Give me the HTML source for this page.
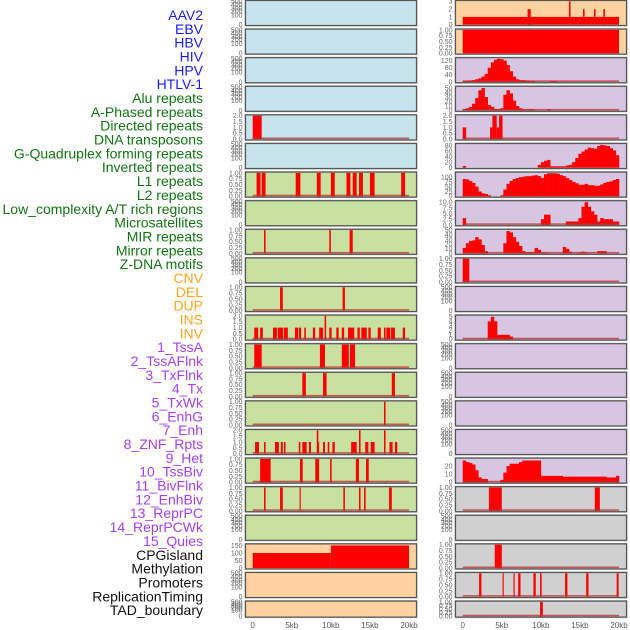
<!DOCTYPE html>
<html><head><meta charset="utf-8">
<style>
html,body{margin:0;padding:0;background:#fff;width:630px;height:630px;overflow:hidden}
svg{display:block}
.lab{font-family:"Liberation Sans",sans-serif;font-size:14px}
.tk{font-family:"Liberation Sans",sans-serif;font-size:7px;fill:#666}
.xt{font-family:"Liberation Sans",sans-serif;font-size:8px;fill:#555}
</style></head>
<body>
<svg id="chart" width="630" height="630" viewBox="0 0 630 630"></svg>
<script>
// ---- data ----
const labels = ["AAV2","EBV","HBV","HIV","HPV","HTLV-1","Alu repeats","A-Phased repeats","Directed repeats","DNA transposons","G-Quadruplex forming repeats","Inverted repeats","L1 repeats","L2 repeats","Low_complexity A/T rich regions","Microsatellites","MIR repeats","Mirror repeats","Z-DNA motifs","CNV","DEL","DUP","INS","INV","1_TssA","2_TssAFlnk","3_TxFlnk","4_Tx","5_TxWk","6_EnhG","7_Enh","8_ZNF_Rpts","9_Het","10_TssBiv","11_BivFlnk","12_EnhBiv","13_ReprPC","14_ReprPCWk","15_Quies","CPGisland","Methylation","Promoters","ReplicationTiming","TAD_boundary"];
const labelGroups = ["v","v","v","v","v","v","r","r","r","r","r","r","r","r","r","r","r","r","r","s","s","s","s","s","c","c","c","c","c","c","c","c","c","c","c","c","c","c","c","o","o","o","o","o"];
const xTickKb = [0,5,10,15,20];
const xTickLabels = ["0","5kb","10kb","15kb","20kb"];
// intervals: [startKb, endKb, value]
const aav2Int = [[0,20,1],[8.3,8.7,2],[13.6,13.8,3],[15.4,15.6,2],[16.8,17.0,2],[18.0,18.2,2]];
const ebvInt = [[0,20,1]];
const dirLeftInt = [[0,1.15,2]];
const dirRightInt = [[0,0.45,1],[3.5,3.8,1],[3.8,4.35,2],[4.35,4.65,1],[4.65,5.1,2]];
const l1LeftInt = [[0.5,1.0,1],[1.15,1.65,1],[5.5,6.1,1],[8.2,8.7,1],[10,10.5,1],[12,12.5,1],[12.8,13.3,1],[13.6,14.1,1],[15,15.6,1],[19,19.5,1]];
const mirLeftInt = [[1.45,1.65,1],[9.8,10.0,1],[12.4,12.8,1]];
const zdnaRightInt = [[0,0.85,1]];
const dupLeftInt = [[3.5,3.85,1],[11.5,11.8,1]];
const insLeftInt = [[0.2,0.7,1],[0.95,1.3,1],[2.6,3.1,1],[3.2,3.9,1],[4,4.5,1],[5.4,5.8,1],[5.9,6.2,1],[6.6,6.8,1],[7.7,8,1],[8.5,9,1],[9.2,9.4,2],[9.8,10.1,1],[10.7,11,1],[11.4,11.7,1],[12.2,13,1],[13.4,13.7,1],[13.9,14.6,1],[14.8,15.1,1],[16,16.4,1],[16.8,17,1],[17.1,17.6,1],[17.7,18.2,1],[19.2,19.5,1]];
const tssaInt = [[0.2,1.15,1],[8.6,9.25,1],[11.4,12.3,1],[12.45,13.1,1]];
const txflnkInt = [[6.35,6.8,1],[9.0,9.45,1],[17.8,18.2,1]];
const txInt = [[16.8,17.0,1]];
const znfInt = [[0.3,0.8,1],[1.45,1.65,1],[2.85,3.35,1],[3.6,3.85,1],[4.0,4.2,1],[5.9,6.1,1],[6.35,6.9,1],[7.2,7.45,1],[8.2,8.4,2],[8.3,8.5,1],[9.0,9.25,1],[9.6,9.8,1],[10.2,10.5,1],[12.6,13.3,1],[13.6,13.8,2],[14.4,14.8,1],[15.1,15.6,1],[16.8,17.0,2],[17.5,17.9,1],[18.2,18.5,1]];
const hetLeftInt = [[0.95,2.3,1],[6.05,6.4,1],[8.0,8.5,1],[9.9,10.1,1],[13.2,13.6,1],[14.5,14.85,1]];
const tssbivLeftInt = [[1.45,1.65,1],[3.5,3.85,1],[6.0,6.15,1],[11.6,11.8,1],[13.6,13.8,1],[14.25,14.45,1],[17.45,17.8,1]];
const tssbivRightInt = [[3.35,5.0,1],[16.9,17.55,1]];
const cpgInt = [[0,10,100],[10,20,150]];
const cpgRightInt = [[4.1,5.0,1]];
const promRightInt = [[2.1,2.4,1],[5.1,5.25,1],[6.5,6.65,1],[7.1,7.4,1],[9.05,9.35,1],[9.9,10.1,1],[13.1,13.4,1],[15.8,16.1,1],[19.7,19.95,1]];
const tadRightInt = [[9.9,10.25,1]];
// binned histograms: 50 bins of 0.4kb
const hivBins = [5,5,8,10,15,20,30,45,80,110,125,130,128,120,95,60,30,15,10,10,8,5,5,0,0,0,0,0,5,5,0,0,0,0,0,0,0,0,0,0,0,0,0,0,0,0,0,0,0,0];
const aluBins = [3,5,8,15,28,45,50,30,12,8,3,3,5,35,45,38,22,10,5,2,2,3,3,0,0,0,0,3,0,0,0,0,0,0,0,0,0,0,0,0,0,0,0,0,0,0,0,0,0,0];
const gquadBins = [6,0,0,0,0,0,0,0,0,0,0,0,0,0,0,0,0,0,0,0,0,0,0,0,10,20,25,28,5,5,5,5,5,8,10,20,35,50,58,65,72,70,68,78,82,80,78,70,62,45];
const invBins = [90,88,80,70,50,25,15,12,5,0,0,0,5,35,65,80,90,95,100,102,105,105,108,110,105,95,115,120,120,120,118,110,105,95,85,75,68,60,60,65,58,58,55,55,62,70,75,78,85,90];
const lowBins = [3,0,0,0,0,0,0,0,0,0,0,0,0,0,0,0,0,0,0,0,0,0,0,0,0,2.5,4.5,4.5,0,0,0,0,0,1.5,1.5,1.5,1.5,3,8,10,8,6,4.5,1.5,3,2.5,2.5,2.5,1.5,1.5];
const microBins = [12,22,27,28,35,30,18,5,0,0,0,0,0,22,48,45,35,25,16,5,3,3,3,12,8,2,2,0,0,0,0,0,14,10,4,0,0,2,4,2,0,0,0,5,5,5,0,0,0,0];
const insRightBins = [0,0,0,0,0,0,0,0,4,5,4,1,1,1,1,0.6,0,0,0,0,0,0,0,0,0,0,0,0,0,0,0,0,0,0,0,0,0,0,0,0,0,0,0,0,0,0,0,0,0,0];
const hetRightBins = [27,25,24,22,15,6,4,4,0,0,0,0,3,12,20,23,23,23,25,27,27,27,27,27,27,8,8,8,8,8,8,8,7,7,7,7,7,7,7,7,7,7,7,7,7,7,6,6,6,8];

const T01=[[0,"0.00"],[0.25,"0.25"],[0.5,"0.50"],[0.75,"0.75"],[1,"1.00"]];
const T02=[[0,"0.0"],[0.5,"0.5"],[1,"1.0"],[1.5,"1.5"],[2,"2.0"]];
const TE=[[0,"0"],[100,"100"],[200,"200"],[300,"300"],[400,"400"],[500,"500"]];
const BL="#c7e3ec",GR="#c8e0a0",OR="#ffd29f",PU="#d6c6e2",GY="#d0d0d0";
// panel specs: [bg, type, data, ymax, ticks, baseline]
const leftPanels=[
[BL,"e",null,500,TE,0],[BL,"e",null,500,TE,0],[BL,"e",null,500,TE,0],[BL,"e",null,500,TE,0],
[BL,"i",dirLeftInt,2,T02,1],[BL,"e",null,500,TE,0],[GR,"i",l1LeftInt,1,T01,1],[GR,"e",null,500,TE,0],
[GR,"i",mirLeftInt,1,T01,1],[GR,"e",null,500,TE,0],[GR,"i",dupLeftInt,1,T01,1],[GR,"i",insLeftInt,2,T02,1],
[GR,"i",tssaInt,1,T01,1],[GR,"i",txflnkInt,1,T01,1],[GR,"i",txInt,1,T01,1],[GR,"i",znfInt,2,T02,1],
[GR,"i",hetLeftInt,1,T01,1],[GR,"i",tssbivLeftInt,1,T01,1],[GR,"e",null,500,TE,0],
[OR,"i",cpgInt,155,[[0,"0"],[50,"50"],[100,"100"],[150,"150"]],0],[OR,"e",null,500,TE,0],[OR,"e",null,500,TE,0]];
const rightPanels=[
[OR,"i",aav2Int,3,[[0,"0"],[1,"1"],[2,"2"],[3,"3"]],0],[OR,"i",ebvInt,1,T01,0],
[PU,"b",hivBins,132,[[0,"0"],[40,"40"],[80,"80"],[120,"120"]],1],[PU,"b",aluBins,52,[[0,"0"],[10,"10"],[20,"20"],[30,"30"],[40,"40"],[50,"50"]],1],
[PU,"i",dirRightInt,2,T02,1],[PU,"b",gquadBins,84,[[0,"0"],[20,"20"],[40,"40"],[60,"60"],[80,"80"]],0],
[PU,"b",invBins,122,[[0,"0"],[25,"25"],[50,"50"],[75,"75"],[100,"100"]],0],[PU,"b",lowBins,10.3,[[0,"0.0"],[2.5,"2.5"],[5,"5.0"],[7.5,"7.5"],[10,"10.0"]],1],
[PU,"b",microBins,50,[[0,"0"],[10,"10"],[20,"20"],[30,"30"],[40,"40"],[50,"50"]],1],[PU,"i",zdnaRightInt,1,T01,1],
[PU,"e",null,500,TE,0],[PU,"b",insRightBins,5.2,[[0,"0"],[1,"1"],[2,"2"],[3,"3"],[4,"4"],[5,"5"]],1],
[PU,"e",null,500,TE,0],[PU,"e",null,500,TE,0],[PU,"e",null,500,TE,0],[PU,"e",null,500,TE,0],
[PU,"b",hetRightBins,29,[[0,"0"],[10,"10"],[20,"20"]],1],[GY,"i",tssbivRightInt,1,T01,1],[GY,"e",null,500,TE,0],
[GY,"i",cpgRightInt,1,T01,1],[GY,"i",promRightInt,1,T01,1],[GY,"i",tadRightInt,1,T01,1]];

// ---- drawing ----
const NS="http://www.w3.org/2000/svg";
const svg=document.getElementById("chart");
function mk(tag,attrs,parent){const e=document.createElementNS(NS,tag);for(const k in attrs)e.setAttribute(k,attrs[k]);(parent||svg).appendChild(e);return e;}
const groupColor={v:"#1a1aff",r:"#137313",s:"#ffa520",c:"#a63ff0",o:"#111"};
labels.forEach((t,i)=>{
  const e=mk("text",{x:203,y:20+i*13.84,"text-anchor":"end",class:"lab",fill:groupColor[labelGroups[i]]});
  
  
  e.textContent=t;
});
const KB=7.815;
const emptyFrac={0:0,100:0.42,200:0.58,300:0.72,400:0.86,500:1};
function drawPanel(p,i,px,x0,side){
  const [bg,type,data,ymax,ticks,base]=p;
  const top=0.5+i*28.6, h=(i===21)?16:25, w=171;
  const g=mk("g",{});
  
  
  mk("rect",{x:px-1,y:top-1,width:w+2,height:h+2,fill:"#bbb"},g);
  mk("rect",{x:px,y:top,width:w,height:h,fill:bg,stroke:"#555","stroke-width":1.2},g);
  const y0=top+h-0.8, yh=h-1.6;
  const ys=v=>y0-v/ymax*yh;
  if(type==="i"){
    data.forEach(d=>{const r=mk("rect",{x:x0+d[0]*KB,y:ys(d[2]),width:Math.max(0.8,(d[1]-d[0])*KB),height:y0-ys(d[2]),fill:"#ff0000"},g);
      
      });
  } else if(type==="b"){
    data.forEach((v,k)=>{if(v<=0)return;const r=mk("rect",{x:x0+k*0.4*KB,y:ys(v),width:0.4*KB+0.3,height:y0-ys(v),fill:"#ff0000"},g);
      
      });
  }
  if(base){mk("rect",{x:x0,y:y0-1.6,width:20*KB,height:1.6,fill:"#c03030",opacity:0.75},g);}
  ticks.forEach(t=>{
    const ty=type==="e"?(y0-emptyFrac[t[0]]*yh):ys(t[0]);
    const e=mk("text",{x:px-3,y:ty+2.4,"text-anchor":"end",class:"tk"},g);
    
    
    e.textContent=t[1];
  });
}
leftPanels.forEach((p,i)=>drawPanel(p,i,245.5,252.7,"left"));
rightPanels.forEach((p,i)=>drawPanel(p,i,455.5,462.7,"right"));
[252.7,462.7].forEach((x0,c)=>{
  xTickKb.forEach((k,j)=>{
    const e=mk("text",{x:x0+k*KB,y:628,"text-anchor":"middle",class:"xt"});
    
    
    e.textContent=xTickLabels[j];
  });
});
</script>
</body></html>
